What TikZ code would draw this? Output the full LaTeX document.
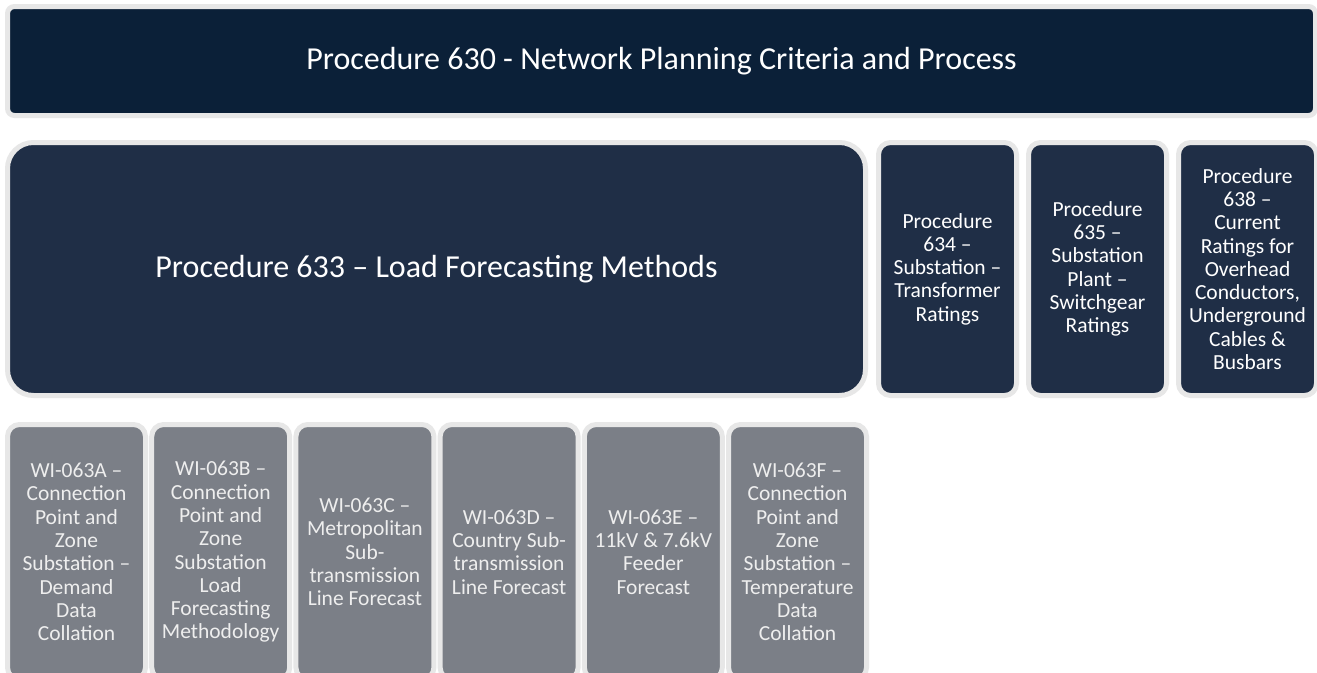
\documentclass[tikz,border=0pt]{standalone}
\usepackage{fontspec}
\setmainfont{Carlito}
\definecolor{topnavy}{HTML}{0B2038}
\definecolor{midnavy}{HTML}{1F2E46}
\definecolor{wigray}{HTML}{7B7F87}
\definecolor{rimgray}{HTML}{E7E7E7}
\definecolor{witext}{HTML}{EEEEEE}
\tikzset{
  box/.style={draw=rimgray, line width=5pt, align=center, inner sep=0pt, anchor=center},
  topbox/.style={box, fill=topnavy, text=white, rounded corners=7pt,
    minimum width=1308pt, minimum height=109pt, font=\fontsize{32}{38}\selectfont},
  bigbox/.style={box, fill=midnavy, text=white, rounded corners=26pt,
    minimum width=858pt, minimum height=253pt, font=\fontsize{32}{38}\selectfont},
  procbox/.style={box, fill=midnavy, text=white, rounded corners=12pt,
    minimum width=138pt, minimum height=253pt, font=\fontsize{21.5}{23.3}\selectfont},
  wibox/.style={box, fill=wigray, text=witext, rounded corners=12pt,
    minimum width=138pt, minimum height=255pt, font=\fontsize{21.5}{23.3}\selectfont},
}
\begin{document}
\begin{tikzpicture}[x=1pt,y=-1pt]
\useasboundingbox (0,0) rectangle (1317,672);
\clip (0,0) rectangle (1317,672);
\fill[white] (0,0) rectangle (1317,672);
\node[topbox] (p630) at (661.5,61) {Procedure 630 - Network Planning Criteria and Process};
\node[bigbox] (p633) at (436.5,269) {Procedure 633 – Load Forecasting Methods};
\node[procbox] (p634) at (947.5,269) {Procedure\\634 –\\Substation –\\Transformer\\Ratings};
\node[procbox] (p635) at (1097.5,269) {Procedure\\635 –\\Substation\\Plant –\\Switchgear\\Ratings};
\node[procbox] (p638) at (1247.5,269) {Procedure\\638 –\\Current\\Ratings for\\Overhead\\Conductors,\\Underground\\Cables \&\\Busbars};
\node[wibox] (wiA) at (76.5,552) {WI-063A –\\Connection\\Point and\\Zone\\Substation –\\Demand\\Data\\Collation};
\node[wibox] (wiB) at (220.7,552) {WI-063B –\\Connection\\Point and\\Zone\\Substation\\Load\\Forecasting\\Methodology};
\node[wibox] (wiC) at (364.9,552) {WI-063C –\\Metropolitan\\Sub-\\transmission\\Line Forecast};
\node[wibox] (wiD) at (509.1,552) {WI-063D –\\Country Sub-\\transmission\\Line Forecast};
\node[wibox] (wiE) at (653.3,552) {WI-063E –\\11kV \& 7.6kV\\Feeder\\Forecast};
\node[wibox] (wiF) at (797.5,552) {WI-063F –\\Connection\\Point and\\Zone\\Substation –\\Temperature\\Data\\Collation};
\end{tikzpicture}
\end{document}
